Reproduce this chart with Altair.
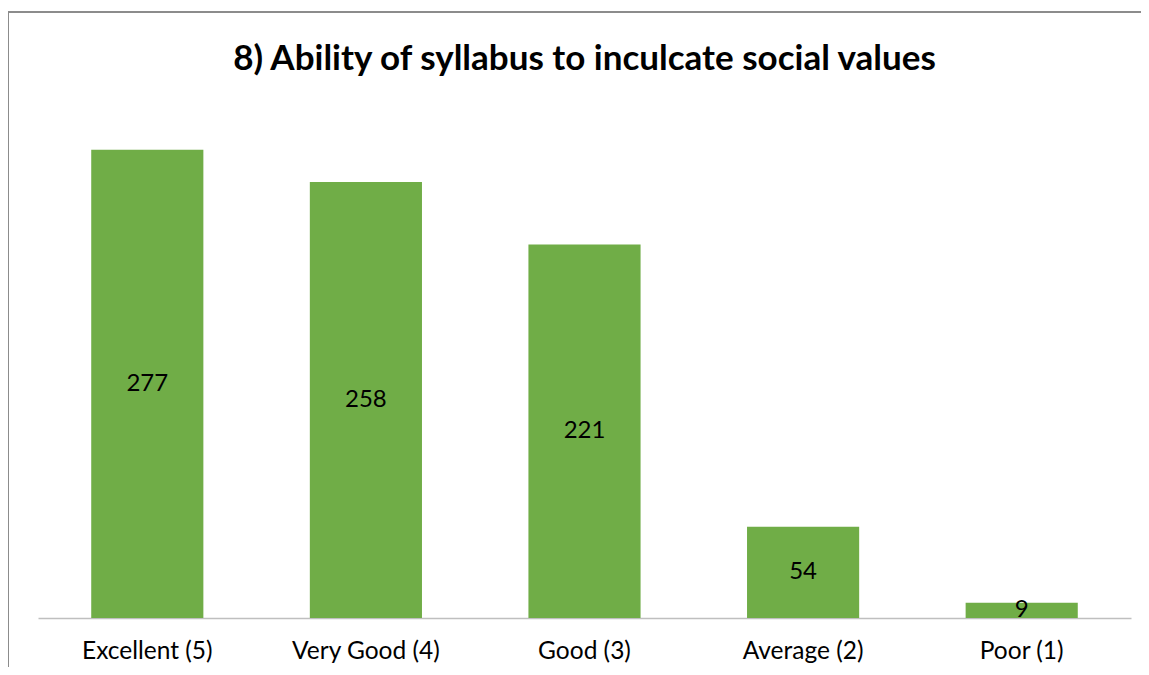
import altair as alt
import pandas as pd

categories = ["Excellent (5)", "Very Good (4)", "Good (3)", "Average (2)", "Poor (1)"]
counts = [277, 258, 221, 54, 9]

df = pd.DataFrame({"category": categories, "count": counts})

W, H = 1093, 507
FONT = "Lato"

x = alt.X("category:N", sort=categories, title=None,
          scale=alt.Scale(paddingInner=0.487, paddingOuter=0.2435),
          axis=alt.Axis(labelAngle=0, labelFontSize=24.5, labelFont=FONT, labelColor="#000000",
                        ticks=False, domainColor="#BFBFBF", domainWidth=1.5,
                        labelPadding=21, grid=False))
y = alt.Y("count:Q", title=None, scale=alt.Scale(domain=[0, 300], nice=False), axis=None)

bars = alt.Chart(df).mark_bar(color="#70AD47").encode(x=x, y=y)

labels = alt.Chart(df).transform_calculate(mid="datum.count / 2").mark_text(
    fontSize=24, font=FONT, color="#000000", baseline="middle", align="center"
).encode(x=alt.X("category:N", sort=categories), y=alt.Y("mid:Q"), text="count:Q")

frame = alt.Chart(df).mark_rect(fill="transparent", stroke="#8C8C8C", strokeWidth=1.5).encode(
    x=alt.value(-30), x2=alt.value(1300), y=alt.value(-99), y2=alt.value(800)
)

chart = alt.layer(frame, bars, labels).properties(
    width=W, height=H,
    title=alt.TitleParams("8) Ability of syllabus to inculcate social values",
                          fontSize=35, font=FONT, fontWeight="bold", color="#000000",
                          anchor="middle", frame="group", offset=-66),
    autosize=alt.AutoSizeParams(type="none"),
    padding={"left": 30, "top": 103, "right": 10, "bottom": 49},
).configure_view(stroke=None)

chart.save("out.html", embed_options={"renderer": "svg", "actions": False})
